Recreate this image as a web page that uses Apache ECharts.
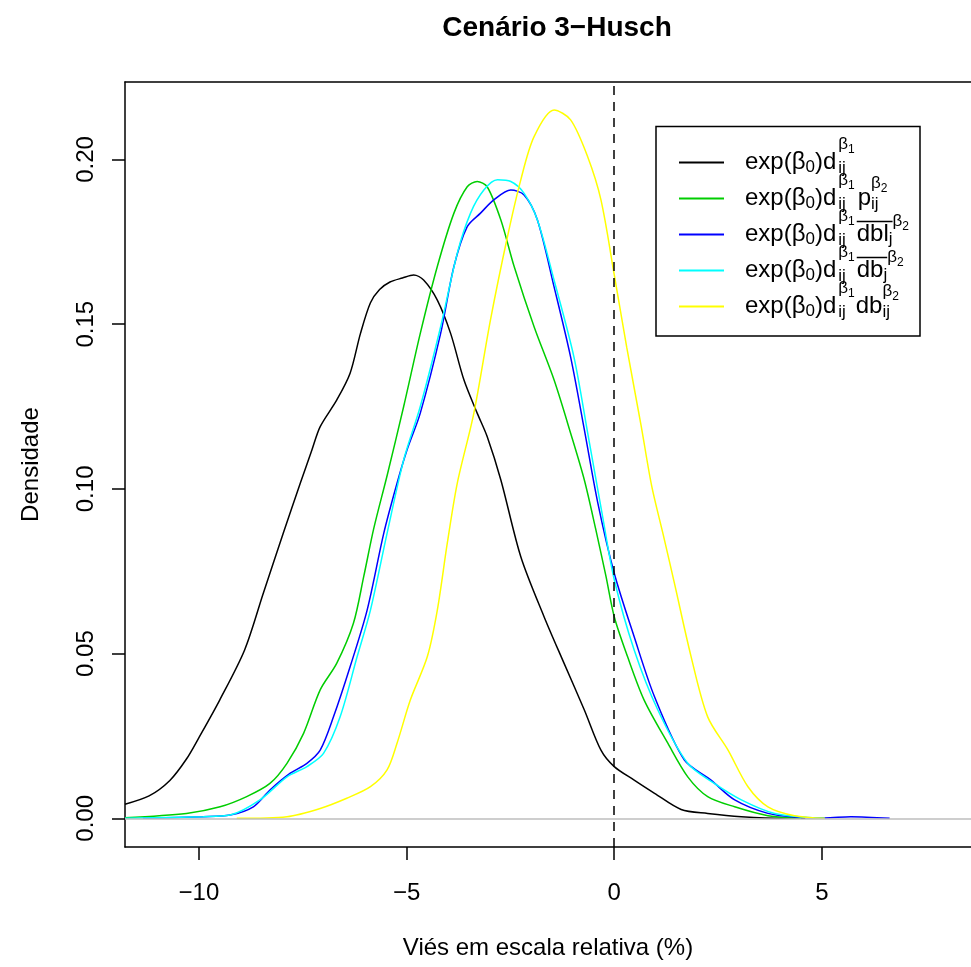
<!DOCTYPE html>
<html>
<head>
<meta charset="utf-8">
<script src="https://cdn.jsdelivr.net/npm/echarts@6/dist/echarts.min.js"></script>
<style>
html, body { margin: 0; padding: 0; background: #fff; }
#main { width: 971px; height: 967px; }
</style>
</head>
<body>
<div id="main"></div>
<script>
// densidades (x = vies %, y = densidade)
var xTicks = [-10, -5, 0, 5];
var yTicks = [0, 0.05, 0.10, 0.15, 0.20];

var xPreto = [-11.78, -11.2, -10.7, -10.3, -10.0, -9.5, -8.9, -8.45, -7.97, -7.56, -7.28, -7.08, -6.68, -6.36, -6.11, -5.87, -5.65, -5.4, -5.1, -4.83, -4.59, -4.26, -3.94, -3.62, -3.3, -3.06, -2.73, -2.25, -1.69, -1.21, -0.72, -0.32, 0, 0.48, 0.97, 1.61, 2.25, 3.06, 4.1, 4.6];
var yPreto = [0.0043, 0.0068, 0.0115, 0.018, 0.0245, 0.0359, 0.0511, 0.0683, 0.0865, 0.1017, 0.1118, 0.1189, 0.127, 0.1351, 0.1472, 0.1565, 0.1605, 0.1628, 0.164, 0.1649, 0.1634, 0.1573, 0.1472, 0.1331, 0.123, 0.1159, 0.1027, 0.0794, 0.0612, 0.0471, 0.0329, 0.0207, 0.0157, 0.0116, 0.0076, 0.0027, 0.0015, 0.0005, 0.0, 0.0];

var xVerde = [-11.78, -10.3, -9.49, -8.85, -8.29, -7.88, -7.48, -7.08, -6.68, -6.28, -6.03, -5.79, -5.47, -5.07, -4.67, -4.26, -3.86, -3.54, -3.3, -3.06, -2.73, -2.41, -1.93, -1.45, -1.05, -0.72, -0.45, -0.2, 0, 0.32, 0.72, 1.29, 1.77, 2.25, 2.9, 3.7, 4.5];
var yVerde = [0.0002, 0.0015, 0.0035, 0.0066, 0.0106, 0.0167, 0.0258, 0.039, 0.0471, 0.0592, 0.0735, 0.088, 0.104, 0.125, 0.1472, 0.1675, 0.1837, 0.1917, 0.1933, 0.1917, 0.1816, 0.1675, 0.1492, 0.1331, 0.1169, 0.1027, 0.088, 0.0735, 0.0612, 0.0491, 0.0359, 0.0228, 0.0126, 0.0066, 0.0035, 0.0008, 0];

var xAzul = [-11.35, -9.9, -9.25, -8.69, -8.29, -7.8, -7.4, -7.08, -6.76, -6.36, -5.95, -5.55, -5.23, -4.99, -4.67, -4.18, -3.86, -3.54, -3.22, -2.9, -2.49, -2.17, -1.85, -1.45, -1.05, -0.72, -0.4, 0, 0.48, 0.97, 1.69, 2.33, 2.9, 3.7, 4.4, 5.07, 5.7, 6.63];
var yAzul = [0, 0.0005, 0.001, 0.0035, 0.0086, 0.0137, 0.0167, 0.0207, 0.0308, 0.046, 0.0632, 0.0865, 0.1017, 0.1118, 0.123, 0.1472, 0.1675, 0.1796, 0.1837, 0.1877, 0.1907, 0.1892, 0.1816, 0.1614, 0.14, 0.118, 0.096, 0.0744, 0.0551, 0.0369, 0.0177, 0.0116, 0.0056, 0.0015, 0.0003, 0.0001, 0.0005, 0];

var xCiano = [-11.78, -9.9, -9.25, -8.53, -7.88, -7.4, -7.0, -6.6, -6.19, -5.87, -5.47, -5.07, -4.67, -4.18, -3.78, -3.46, -3.14, -2.81, -2.49, -2.17, -1.85, -1.45, -0.97, -0.64, -0.3, 0, 0.48, 1.05, 1.77, 2.41, 3.06, 3.86, 5.07];
var yCiano = [0, 0.0005, 0.001, 0.0056, 0.0126, 0.0157, 0.0197, 0.0308, 0.0491, 0.0632, 0.0865, 0.1088, 0.125, 0.1492, 0.1715, 0.1837, 0.1907, 0.1938, 0.1933, 0.1897, 0.1816, 0.1634, 0.14, 0.117, 0.093, 0.0725, 0.0511, 0.0329, 0.0167, 0.0106, 0.0056, 0.0015, 0];

var xAmarelo = [-9.09, -7.88, -7.08, -6.44, -5.87, -5.47, -5.23, -4.91, -4.5, -4.26, -4.02, -3.78, -3.38, -2.98, -2.57, -2.25, -1.93, -1.45, -1.05, -0.64, -0.32, 0, 0.3, 0.65, 0.9, 1.2, 1.45, 1.85, 2.25, 2.74, 3.22, 3.7, 4.34, 5.07];
var yAmarelo = [0, 0.0005, 0.003, 0.0061, 0.0096, 0.0147, 0.0228, 0.0359, 0.0491, 0.0632, 0.0835, 0.1017, 0.123, 0.1513, 0.1766, 0.1938, 0.2069, 0.215, 0.212, 0.2008, 0.1877, 0.165, 0.143, 0.119, 0.101, 0.085, 0.0713, 0.0491, 0.0308, 0.0207, 0.0096, 0.0035, 0.0008, 0];

var nomes = ['exp(b0)d', 'exp(b0)d p', 'exp(b0)d dbl', 'exp(b0)d db_j', 'exp(b0)d db'];
var cores = ['#000000', '#00CD00', '#0000FF', '#00FFFF', '#FFFF00'];

var FONT = '"Liberation Sans", Arial, sans-serif';
var X_MIN = -11.78, X_MAX = 8.59;

function zip(xs, ys) {
    var out = [];
    for (var i = 0; i < xs.length; i++) out.push([xs[i], ys[i]]);
    return out;
}

// medir texto para montar as formulas da legenda
var cv = document.createElement('canvas').getContext('2d');
function tw(t, s) {
    cv.font = s + 'px ' + FONT;
    return cv.measureText(t).width;
}

var BIG = 24, SUB = 17, SUB2 = 12;

function txt(x, base, t, s) {
    return {
        type: 'text', x: x, y: base - 0.35 * s, z: 100,
        style: { text: t, fontSize: s, fontFamily: FONT, fill: '#000', align: 'left', verticalAlign: 'middle' }
    };
}

function formula(x, base, parts) {
    var els = [], ov = 0;
    parts.forEach(function (p) {
        var k = p[0];
        if (k == 'n') {
            els.push(txt(x, base, p[1], BIG));
            x += tw(p[1], BIG);
        } else if (k == 'sub') {
            els.push(txt(x, base + 3, p[1], SUB));
            x += tw(p[1], SUB);
        } else if (k == 'gap') {
            x += p[1];
        } else if (k == 'scr') {
            // p = ['scr', 'β', '1', 'ij', dy]
            var w1 = tw(p[1], SUB);
            els.push(txt(x, base + p[4], p[1], SUB));
            els.push(txt(x + w1, base + p[4] + 3, p[2], SUB2));
            var wsup = w1 + tw(p[2], SUB2);
            var wsub = 0;
            if (p[3]) {
                els.push(txt(x, base + 4, p[3], SUB));
                wsub = tw(p[3], SUB);
            }
            x += Math.max(wsup, wsub);
        } else if (k == 'ov0') {
            ov = x;
        } else if (k == 'ov1') {
            els.push({
                type: 'line', z: 100,
                shape: { x1: ov, y1: base - 21, x2: x, y2: base - 21 },
                style: { stroke: '#000', lineWidth: 1.5 }
            });
        }
    });
    return els;
}

var comum = [['n', 'exp(β'], ['sub', '0'], ['n', ')d'], ['gap', 2], ['scr', 'β', '1', 'ij', -20]];
var formulas = [
    comum,
    comum.concat([['gap', 3], ['n', 'p'], ['scr', 'β', '2', 'ij', -17]]),
    comum.concat([['gap', 2], ['ov0'], ['n', 'dbl'], ['sub', 'j'], ['ov1'], ['scr', 'β', '2', '', -15]]),
    comum.concat([['gap', 2], ['ov0'], ['n', 'db'], ['sub', 'j'], ['ov1'], ['scr', 'β', '2', '', -15]]),
    comum.concat([['gap', 1], ['n', 'db'], ['scr', 'β', '2', 'ij', -17]])
];

var legenda = [{
    type: 'rect', z: 99,
    shape: { x: 656, y: 126.5, width: 264, height: 209.5 },
    style: { fill: '#fff', stroke: '#000', lineWidth: 1.5 }
}];
for (var i = 0; i < 5; i++) {
    var ly = 162.5 + 36 * i;
    legenda.push({
        type: 'line', z: 100,
        shape: { x1: 679, y1: ly, x2: 724, y2: ly },
        style: { stroke: cores[i], lineWidth: 2 }
    });
    legenda = legenda.concat(formula(745, ly + 8, formulas[i]));
}

var dados = [zip(xPreto, yPreto), zip(xVerde, yVerde), zip(xAzul, yAzul), zip(xCiano, yCiano), zip(xAmarelo, yAmarelo)];

var series = dados.map(function (d, i) {
    return {
        name: nomes[i],
        type: 'line',
        data: d,
        showSymbol: false,
        smooth: 0.3,
        lineStyle: { color: cores[i], width: 1.5 },
        itemStyle: { color: cores[i] },
        silent: true
    };
});
series[0].markLine = {
    silent: true,
    symbol: 'none',
    label: { show: false },
    data: [
        { yAxis: 0, lineStyle: { color: '#bebebe', width: 1.5, type: 'solid' } },
        { xAxis: 0, lineStyle: { color: '#000', width: 1.5, type: [9, 7] } }
    ]
};

var chart = echarts.init(document.getElementById('main'), null, { renderer: 'canvas' });
chart.setOption({
    backgroundColor: '#fff',
    animation: false,
    title: {
        text: 'Cenário 3−Husch',
        left: 552,
        textAlign: 'center',
        top: 9,
        textStyle: { fontFamily: FONT, fontSize: 28, fontWeight: 'bold', color: '#000' }
    },
    grid: { left: 125, top: 82, right: 0, bottom: 120, show: false },
    xAxis: [{
        type: 'value',
        min: X_MIN, max: X_MAX,
        name: 'Viés em escala relativa (%)',
        nameLocation: 'middle',
        nameGap: 89,
        nameTextStyle: { fontFamily: FONT, fontSize: 24, color: '#000' },
        axisLine: { show: true, onZero: false, lineStyle: { color: '#000', width: 1.5 } },
        splitLine: { show: false },
        axisTick: { show: true, customValues: xTicks, length: 13, lineStyle: { color: '#000', width: 1.5 } },
        axisLabel: {
            customValues: xTicks, margin: 34,
            fontFamily: FONT, fontSize: 24, color: '#000',
            formatter: function (v) { return String(v).replace('-', '−'); }
        }
    }, {
        // borda superior do quadro
        type: 'value', position: 'top',
        min: X_MIN, max: X_MAX,
        axisLine: { show: true, onZero: false, lineStyle: { color: '#000', width: 1.5 } },
        axisTick: { show: false }, axisLabel: { show: false }, splitLine: { show: false }
    }],
    yAxis: {
        type: 'value',
        min: -0.0087, max: 0.2235,
        name: 'Densidade',
        nameLocation: 'middle',
        nameGap: 82,
        nameTextStyle: { fontFamily: FONT, fontSize: 24, color: '#000' },
        axisLine: { show: true, onZero: false, lineStyle: { color: '#000', width: 1.5 } },
        splitLine: { show: false },
        axisTick: { show: true, customValues: yTicks, length: 13, lineStyle: { color: '#000', width: 1.5 } },
        axisLabel: {
            customValues: yTicks, margin: 27, rotate: 90,
            fontFamily: FONT, fontSize: 24, color: '#000',
            formatter: function (v) { return v.toFixed(2); }
        }
    },
    legend: { show: false },
    series: series,
    graphic: legenda
});
</script>
</body>
</html>
